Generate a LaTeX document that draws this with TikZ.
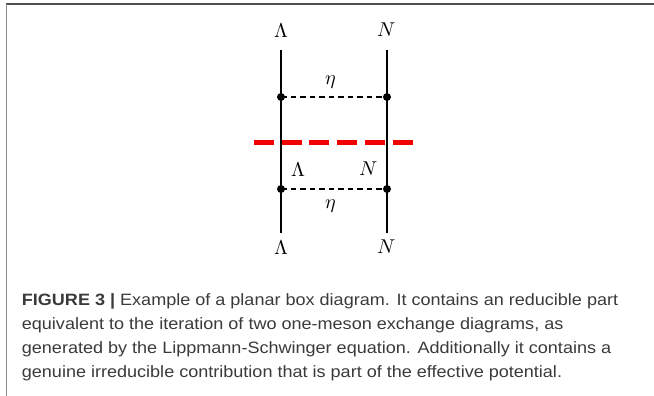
\documentclass[tikz,border=0pt]{standalone}
\usepackage{fontspec}
\setmainfont{Liberation Sans}
\newfontfamily\capfont[FakeStretch=1.1]{Liberation Sans}
\usepackage{unicode-math}
\setmathfont{Latin Modern Math}
\definecolor{captxt}{HTML}{3A3A3A}
\definecolor{frametop}{HTML}{505050}
\definecolor{frameleft}{HTML}{8A8A8A}
\tikzset{
  fermion/.style={line width=2pt, black},
  meson/.style={line width=1.4pt, black, dash pattern=on 5.5pt off 4pt},
  cut/.style={line width=4.5pt, red!95!black, dash pattern=on 20pt off 7.7pt},
  vtx/.style={circle, fill=black, inner sep=0pt, minimum size=8pt},
  lbl/.style={inner sep=0pt, font=\fontsize{20}{24}\selectfont},
  captext/.style={anchor=base west, inner sep=0pt, text=captxt, font=\capfont\fontsize{16.4}{20}\selectfont}
}
\begin{document}
\begin{tikzpicture}[x=1pt, y=-1pt]
\useasboundingbox (0,0) rectangle (654,396);
% frame
\draw[frametop, line width=1.6pt] (6,4) -- (654,4);
\draw[frameleft, line width=1.6pt] (6.5,4) -- (6.5,396);
% fermion lines
\coordinate (lt) at (281,50);
\coordinate (lb) at (281,233);
\coordinate (rt) at (387,50);
\coordinate (rb) at (387,233);
\node[vtx] (lu) at (281,97) {};
\node[vtx] (ru) at (387,97) {};
\node[vtx] (ld) at (281,189) {};
\node[vtx] (rd) at (387,189) {};
\draw[fermion] (lt) -- (lb);
\draw[fermion] (rt) -- (rb);
\draw[meson] (lu.center) -- (ru.center);
\draw[meson] (ld.center) -- (rd.center);
% cut
\coordinate (cl) at (254,142.3);
\coordinate (cr) at (416,142.3);
\draw[cut] (cl) -- (cr);
% labels
\node[lbl] (L1) at (281,30) {$\Lambda$};
\node[lbl] (N1) at (387,30) {$N$};
\node[lbl] (e1) at (331,82) {$\eta$};
\node[lbl] (L2) at (298,169) {$\Lambda$};
\node[lbl] (N2) at (369,169) {$N$};
\node[lbl] (e2) at (331,206) {$\eta$};
\node[lbl] (L3) at (281,247) {$\Lambda$};
\node[lbl] (N3) at (387,247) {$N$};
% caption
\node[captext] (c1) at (21.7,305.5) {\textbf{FIGURE 3 |} Example of a planar box diagram. It contains an reducible part};
\node[captext] (c2) at (21.7,329.5) {equivalent to the iteration of two one-meson exchange diagrams, as};
\node[captext] (c3) at (21.7,353.5) {generated by the Lippmann-Schwinger equation. Additionally it contains a};
\node[captext] (c4) at (21.7,377.5) {genuine irreducible contribution that is part of the effective potential.};
\end{tikzpicture}
\end{document}
